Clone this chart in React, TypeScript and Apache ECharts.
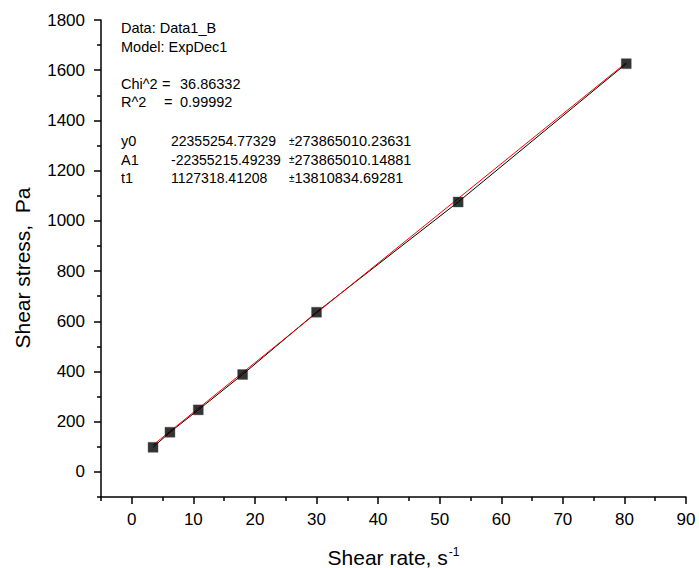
import React, { useEffect, useRef } from "react";
import * as echarts from "echarts";

const shearRate = [3.45, 6.2, 10.8, 18.0, 30.0, 53.0, 80.3];
const shearStress = [98, 158, 247, 388, 636, 1075, 1626];
const fitX = [3.45, 80.3];
const fitY = [107, 1630];
const xMajorTicks = [0, 10, 20, 30, 40, 50, 60, 70, 80, 90];
const xMinorTicks = [-5, 5, 15, 25, 35, 45, 55, 65, 75, 85];
const yMajorTicks = [0, 200, 400, 600, 800, 1000, 1200, 1400, 1600, 1800];
const yMinorTicks = [-100, 100, 300, 500, 700, 900, 1100, 1300, 1500, 1700];

const infoLines = ["Data: Data1_B", "Model: ExpDec1"];
const statNames = ["Chi^2", "R^2"];
const statValues = ["36.86332", "0.99992"];
const paramNames = ["y0", "A1", "t1"];
const paramValues = ["22355254.77329", "-22355215.49239", "1127318.41208"];
const paramErrors = ["273865010.23631", "273865010.14881", "13810834.69281"];

const FONT = "'Liberation Sans', Arial, sans-serif";

export default function App() {
  const ref = useRef<HTMLDivElement>(null);
  useEffect(() => {
    if (!ref.current) return;
    const chart = echarts.init(ref.current, null, { renderer: "svg" });
    const txt = (text: string, x: number, y: number, extra: any = {}) => ({
      type: "text",
      x,
      y,
      style: {
        text,
        fontSize: 14.5,
        fontFamily: FONT,
        fill: "#000",
        verticalAlign: "middle",
        ...extra,
      },
    });
    const graphics: any[] = [];
    infoLines.forEach((t, i) => graphics.push(txt(t, 121, 27.5 + i * 19)));
    statNames.forEach((t, i) => {
      const y = 84 + i * 18;
      graphics.push(txt(t, 121, y));
      graphics.push(txt("=", i === 0 ? 162 : 164, y));
      graphics.push(txt(statValues[i], 180, y));
    });
    paramNames.forEach((t, i) => {
      const y = 141 + i * 18.5;
      graphics.push(txt(t, 121, y));
      graphics.push(txt(paramValues[i], 171, y, { fontSize: 14 }));
      graphics.push({
        type: "text",
        x: 289,
        y,
        style: {
          text: "{pm|±}{v|" + paramErrors[i] + "}",
          fontFamily: FONT,
          fill: "#000",
          verticalAlign: "middle",
          rich: {
            pm: { fontSize: 10, fontFamily: FONT, fill: "#000" },
            v: { fontSize: 14.5, fontFamily: FONT, fill: "#000" },
          },
        },
      });
    });
    graphics.push({
      type: "text",
      x: 22,
      y: 268,
      rotation: Math.PI / 2,
      style: {
        text: "Shear stress,  Pa",
        fontSize: 21,
        fontFamily: FONT,
        fill: "#000",
        align: "center",
        verticalAlign: "middle",
      },
    });

    const axisLineStyle = { color: "#000", width: 1.5 };
    const fmt = (v: number) => String(v);
    chart.setOption({
      animation: false,
      backgroundColor: "#fff",
      grid: { left: 101, right: 13, top: 20, bottom: 71, containLabel: false, outerBoundsMode: "none" },
      xAxis: [
        {
          type: "value",
          min: -5,
          max: 90,
          interval: 5,
          splitLine: { show: false },
          axisLine: { show: true, onZero: false, lineStyle: axisLineStyle },
          axisTick: { show: true, customValues: xMajorTicks, length: 7, lineStyle: { color: "#000", width: 1.5 } },
          axisLabel: {
            customValues: xMajorTicks,
            formatter: fmt,
            fontSize: 17,
            fontFamily: FONT,
            color: "#000",
            margin: 14,
          },
          name: "{t|Shear rate, s}{sup|-1}",
          nameLocation: "middle",
          nameGap: 49,
          nameTextStyle: {
            rich: {
              t: { fontSize: 21, lineHeight: 22, fontFamily: FONT, color: "#000" },
              sup: { fontSize: 12, lineHeight: 22, fontFamily: FONT, color: "#000", verticalAlign: "top", padding: [0, 0, 8, 1] },
            },
          },
        },
        {
          type: "value",
          min: -5,
          max: 90,
          interval: 5,
          position: "bottom",
          splitLine: { show: false },
          axisLine: { show: false, onZero: false },
          axisTick: { show: true, customValues: xMinorTicks, length: 4, lineStyle: { color: "#000", width: 1.5 } },
          axisLabel: { show: false },
        },
      ],
      yAxis: [
        {
          type: "value",
          min: -100,
          max: 1800,
          interval: 100,
          splitLine: { show: false },
          axisLine: { show: true, onZero: false, lineStyle: axisLineStyle },
          axisTick: { show: true, customValues: yMajorTicks, length: 7, lineStyle: { color: "#000", width: 1.5 } },
          axisLabel: {
            customValues: yMajorTicks,
            formatter: fmt,
            fontSize: 17,
            fontFamily: FONT,
            color: "#000",
            margin: 16,
          },
        },
        {
          type: "value",
          min: -100,
          max: 1800,
          interval: 100,
          position: "left",
          splitLine: { show: false },
          axisLine: { show: false, onZero: false },
          axisTick: { show: true, customValues: yMinorTicks, length: 4, lineStyle: { color: "#000", width: 1.5 } },
          axisLabel: { show: false },
        },
      ],
      graphic: graphics,
      series: [
        {
          type: "line",
          data: shearRate.map((x, i) => [x, shearStress[i]]),
          lineStyle: { color: "#000", width: 1 },
          showSymbol: false,
          symbol: "none",
          z: 2,
        },
        {
          type: "line",
          data: fitX.map((x, i) => [x, fitY[i]]),
          lineStyle: { color: "#ff0000", width: 1 },
          symbol: "none",
          z: 3,
        },
        {
          type: "scatter",
          data: shearRate.map((x, i) => [x, shearStress[i]]),
          symbol: "rect",
          symbolSize: 10,
          itemStyle: { color: "#000", borderColor: "#555", borderWidth: 0.5 },
          z: 4,
        },
      ],
    });
    return () => chart.dispose();
  }, []);
  return (
    <div
      ref={ref}
      style={{ position: "absolute", left: 0, top: 0, width: 699, height: 568 }}
    />
  );
}
